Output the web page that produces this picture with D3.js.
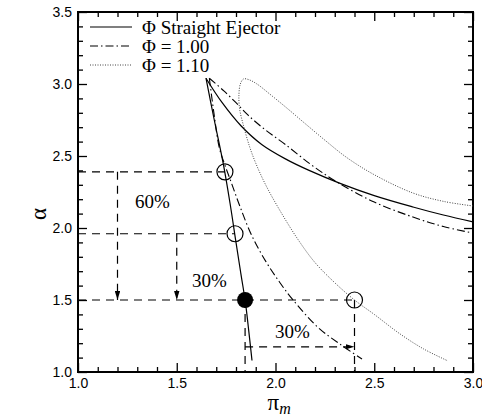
<!DOCTYPE html>
<html>
<head>
<meta charset="utf-8">
<script src="https://cdn.jsdelivr.net/npm/d3@7"></script>
<style>
  body { margin: 0; background: #fff; }
  .tick text { font-family: "Liberation Sans", Arial, sans-serif; font-size: 14px; fill: #000; }
  .serif { font-family: "Liberation Serif", "Times New Roman", serif; fill: #000; }
</style>
</head>
<body>
<svg id="chart" width="482" height="416"></svg>
<script>
// curve data, [pi_m, alpha]
const straightLower = [[1.648,3.04],[1.69,2.75],[1.735,2.45],[1.77,2.17],[1.80,1.90],[1.825,1.68],[1.848,1.48],[1.865,1.28],[1.881,1.08]];
const straightUpper = [[1.648,3.04],[1.73,2.87],[1.825,2.71],[1.93,2.58],[2.05,2.48],[2.17,2.40],[2.327,2.31],[2.5,2.225],[2.696,2.146],[2.85,2.09],[3.0,2.042]];
const phi100Lower = [[1.665,3.04],[1.69,2.78],[1.715,2.56],[1.743,2.44],[1.775,2.32],[1.82,2.15],[1.879,1.95],[1.95,1.77],[2.02,1.625],[2.089,1.50],[2.215,1.31],[2.33,1.19],[2.438,1.09]];
const phi100Upper = [[1.665,3.04],[1.74,2.95],[1.80,2.87],[1.86,2.785],[1.95,2.68],[2.05,2.58],[2.18,2.44],[2.31,2.32],[2.50,2.18],[2.696,2.076],[2.85,2.01],[3.0,1.965]];
const phi110Upper = [[3.0,2.153],[2.85,2.185],[2.696,2.243],[2.5,2.37],[2.36,2.49],[2.25,2.61],[2.15,2.725],[2.06,2.83],[1.98,2.92],[1.906,3.0],[1.865,3.03],[1.838,3.035],[1.822,3.0]];
const phi110Lower = [[1.815,2.93],[1.818,2.83],[1.84,2.70],[1.87,2.56],[1.90,2.45],[1.95,2.30],[2.023,2.12],[2.114,1.92],[2.2,1.76],[2.3,1.62],[2.40,1.50],[2.5,1.40],[2.63,1.265],[2.75,1.16],[2.873,1.077]];

const openPoints = [[1.744,2.39],[1.795,1.96],[2.40,1.50]];
const filledPoints = [[1.846,1.50]];

// dashed guide lines [x1,y1,x2,y2]
const guides = [[1.0,2.39,1.744,2.39],[1.0,1.96,1.795,1.96],[1.0,1.50,2.40,1.50],[1.846,1.50,1.846,1.0],[2.40,1.50,2.40,1.0]];
const arrows = [[1.2,2.39,1.2,1.5],[1.5,1.96,1.5,1.5],[1.846,1.175,2.40,1.175]];
const notes = [["60%",1.289,2.139],["30%",1.577,1.59],["30%",1.997,1.236]];

const legendLabels = ["\u03A6 Straight Ejector", "\u03A6 = 1.00", "\u03A6 = 1.10"];
const xMajor = [1.0,1.5,2.0,2.5,3.0];
const yMajor = [1.0,1.5,2.0,2.5,3.0,3.5];

const svg = d3.select('#chart');
const margin = {left: 78, right: 9, top: 12, bottom: 44};
const width = 482, height = 416;

const xScale = d3.scaleLinear().domain([1,3]).range([margin.left, width - margin.right]);
const yScale = d3.scaleLinear().domain([1,3.5]).range([height - margin.bottom, margin.top]);

const xMinor = d3.range(1.0, 3.0001, 0.1).filter(v => Math.abs(v*2 - Math.round(v*2)) > 1e-6);
const yMinor = d3.range(1.0, 3.5001, 0.1).filter(v => Math.abs(v*2 - Math.round(v*2)) > 1e-6);

const x0 = xScale.range()[0], x1 = xScale.range()[1];
const y0 = yScale.range()[0], y1 = yScale.range()[1];

// axes, ticks pointing inward on all four sides
const axisGroup = (axis, tx, ty) => {
  const g = svg.append('g').attr('transform', `translate(${tx},${ty})`).call(axis);
  g.select('.domain').remove();
  g.selectAll('line').attr('stroke', '#000').attr('stroke-width', 1.3);
  return g;
};
axisGroup(d3.axisBottom(xScale).tickValues(xMajor).tickFormat(d3.format('.1f')).tickSize(-9).tickPadding(6), 0, y0);
axisGroup(d3.axisBottom(xScale).tickValues(xMinor).tickFormat('').tickSize(-5), 0, y0);
axisGroup(d3.axisTop(xScale).tickValues(xMajor).tickFormat('').tickSize(-9), 0, y1);
axisGroup(d3.axisTop(xScale).tickValues(xMinor).tickFormat('').tickSize(-5), 0, y1);
axisGroup(d3.axisLeft(yScale).tickValues(yMajor).tickFormat(d3.format('.1f')).tickSize(-9).tickPadding(6), x0, 0);
axisGroup(d3.axisLeft(yScale).tickValues(yMinor).tickFormat('').tickSize(-5), x0, 0);
axisGroup(d3.axisRight(yScale).tickValues(yMajor).tickFormat('').tickSize(-9), x1, 0);
axisGroup(d3.axisRight(yScale).tickValues(yMinor).tickFormat('').tickSize(-5), x1, 0);

svg.append('rect')
  .attr('x', x0).attr('y', y1)
  .attr('width', x1 - x0).attr('height', y0 - y1)
  .attr('fill', 'none').attr('stroke', '#000').attr('stroke-width', 2);

// arrow head
svg.append('defs').append('marker')
  .attr('id', 'head')
  .attr('viewBox', '0 0 10 6')
  .attr('refX', 10).attr('refY', 3)
  .attr('markerWidth', 9).attr('markerHeight', 5.5)
  .attr('markerUnits', 'userSpaceOnUse')
  .attr('orient', 'auto')
  .append('path').attr('d', 'M0,0 L10,3 L0,6 Z').attr('fill', '#000');

const dashed = '8,6';
svg.append('g').selectAll('line').data(guides).enter().append('line')
  .attr('x1', d => xScale(d[0])).attr('y1', d => yScale(d[1]))
  .attr('x2', d => xScale(d[2])).attr('y2', d => yScale(d[3]))
  .attr('stroke', '#000').attr('stroke-width', 1.2).attr('stroke-dasharray', dashed);

svg.append('g').selectAll('line').data(arrows).enter().append('line')
  .attr('x1', d => xScale(d[0])).attr('y1', d => yScale(d[1]))
  .attr('x2', d => xScale(d[2])).attr('y2', d => yScale(d[3]))
  .attr('stroke', '#000').attr('stroke-width', 1.2).attr('stroke-dasharray', dashed)
  .attr('marker-end', 'url(#head)');

// curves
const line = d3.line().x(d => xScale(d[0])).y(d => yScale(d[1])).curve(d3.curveCatmullRom.alpha(0.5));
const styles = [
  {dash: null, color: '#000', w: 1.2},
  {dash: '8,3,1.5,3', color: '#000', w: 1.1},
  {dash: '1,1.5', color: '#444', w: 1}
];
const curves = [
  [straightLower, 0], [straightUpper, 0],
  [phi100Lower, 1], [phi100Upper, 1],
  [phi110Upper.concat(phi110Lower), 2]
];
svg.append('g').selectAll('path').data(curves).enter().append('path')
  .attr('d', d => line(d[0]))
  .attr('fill', 'none')
  .attr('stroke', d => styles[d[1]].color)
  .attr('stroke-width', d => styles[d[1]].w)
  .attr('stroke-dasharray', d => styles[d[1]].dash);

svg.append('g').selectAll('circle').data(openPoints).enter().append('circle')
  .attr('cx', d => xScale(d[0])).attr('cy', d => yScale(d[1])).attr('r', 8)
  .attr('fill', 'none').attr('stroke', '#000').attr('stroke-width', 1.2);
svg.append('g').selectAll('circle').data(filledPoints).enter().append('circle')
  .attr('cx', d => xScale(d[0])).attr('cy', d => yScale(d[1])).attr('r', 8)
  .attr('fill', '#000');

svg.append('g').selectAll('text').data(notes).enter().append('text')
  .attr('class', 'serif')
  .attr('x', d => xScale(d[1])).attr('y', d => yScale(d[2]))
  .attr('font-size', 19)
  .text(d => d[0]);

// legend
const legend = svg.append('g').attr('transform', 'translate(90,27)');
legendLabels.forEach((label, i) => {
  const row = legend.append('g').attr('transform', `translate(0,${i*19})`);
  row.append('line').attr('x1', 0).attr('x2', 42).attr('y1', 0).attr('y2', 0)
    .attr('stroke', styles[i].color).attr('stroke-width', styles[i].w)
    .attr('stroke-dasharray', styles[i].dash);
  row.append('text').attr('class', 'serif').attr('x', 52).attr('y', 6.5)
    .attr('font-size', 19).text(label);
});

// axis titles
const xt = svg.append('text').attr('class', 'serif')
  .attr('x', (x0 + x1)/2 - 8).attr('y', 410).attr('font-size', 23);
xt.append('tspan').text('\u03C0');
xt.append('tspan').attr('font-size', 16).attr('font-style', 'italic').attr('dy', 4).text('m');

svg.append('text').attr('class', 'serif')
  .attr('transform', `translate(46,${(y0 + y1)/2 + 22}) rotate(-90)`)
  .attr('text-anchor', 'middle')
  .attr('font-size', 23)
  .text('\u03B1');
</script>
</body>
</html>
